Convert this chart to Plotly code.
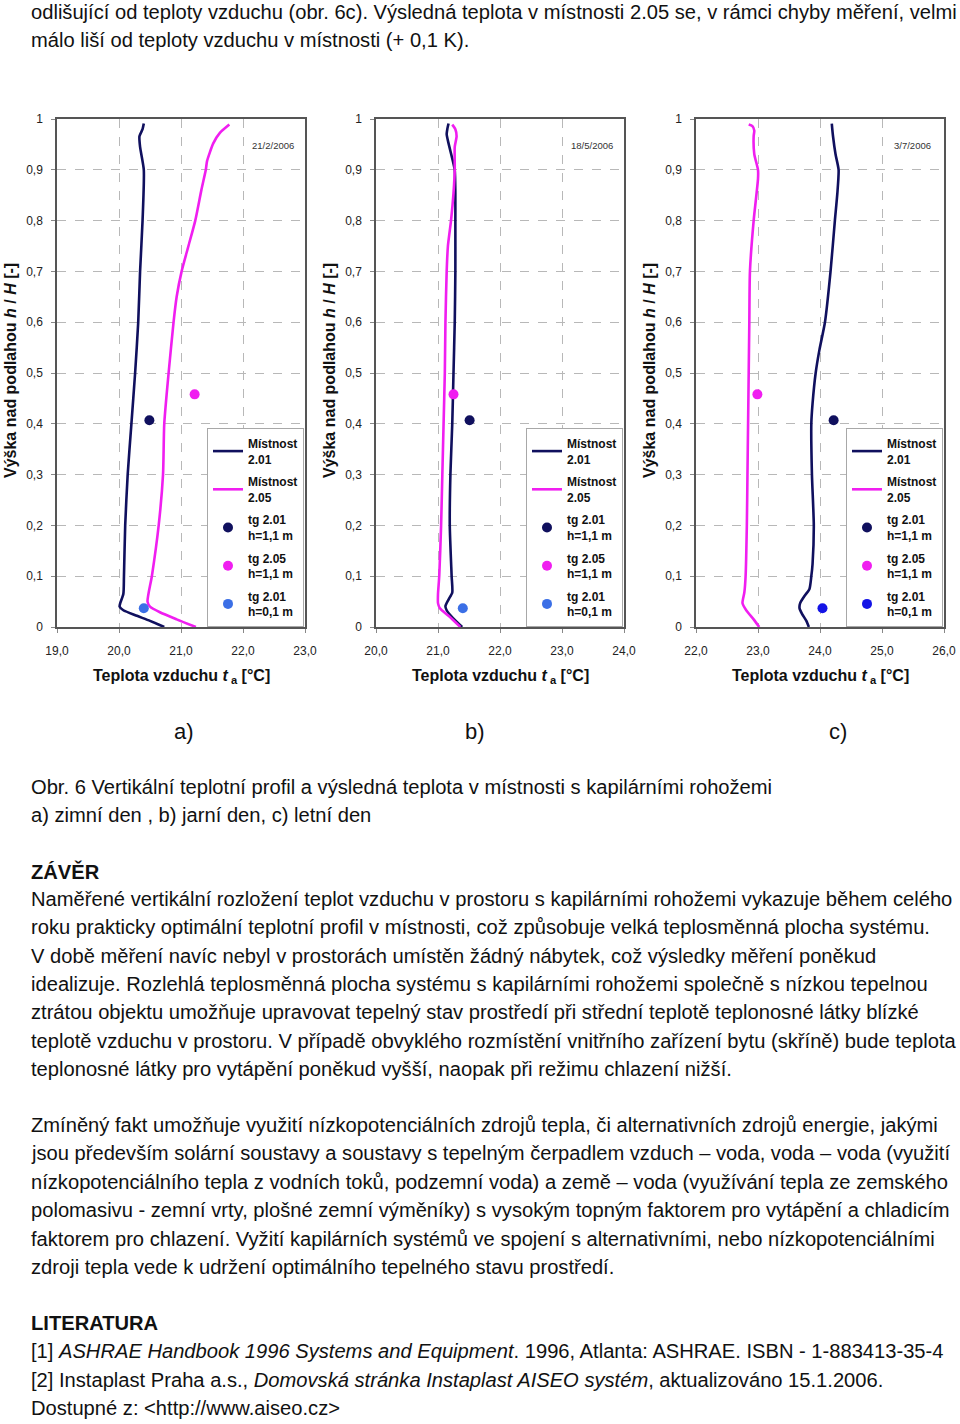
import plotly.graph_objects as go

W, H = 960, 1424
FONT = "Liberation Sans, Arial, Helvetica, sans-serif"

# ---------------- data ----------------
dates = ["21/2/2006", "18/5/2006", "3/7/2006"]
panel_labels = ["a)", "b)", "c)"]
x_ranges = [[19, 23], [20, 24], [22, 26]]
x_tickvals = [[19, 20, 21, 22, 23], [20, 21, 22, 23, 24], [22, 23, 24, 25, 26]]
x_ticktext = [["19,0", "20,0", "21,0", "22,0", "23,0"],
              ["20,0", "21,0", "22,0", "23,0", "24,0"],
              ["22,0", "23,0", "24,0", "25,0", "26,0"]]
y_tickvals = [0, 0.1, 0.2, 0.3, 0.4, 0.5, 0.6, 0.7, 0.8, 0.9, 1]
y_ticktext = ["0", "0,1", "0,2", "0,3", "0,4", "0,5", "0,6", "0,7", "0,8", "0,9", "1"]

# panel a) 21/2/2006
a_h_201 = [0.991, 0.98, 0.966, 0.945, 0.9, 0.8, 0.7, 0.6, 0.5, 0.4, 0.3, 0.2, 0.1, 0.065, 0.047, 0.04, 0.033, 0.022, 0.012, 0.0]
a_t_201 = [20.40, 20.38, 20.33, 20.34, 20.40, 20.38, 20.34, 20.31, 20.26, 20.20, 20.14, 20.10, 20.08, 20.07, 20.02, 20.01, 20.07, 20.29, 20.50, 20.73]
a_h_205 = [0.989, 0.973, 0.952, 0.917, 0.9, 0.861, 0.8, 0.75, 0.7, 0.65, 0.6, 0.5, 0.4, 0.3, 0.2, 0.1, 0.05, 0.04, 0.029, 0.015, 0.0]
a_t_205 = [21.78, 21.63, 21.52, 21.42, 21.40, 21.33, 21.23, 21.12, 21.01, 20.93, 20.88, 20.80, 20.73, 20.71, 20.64, 20.53, 20.46, 20.50, 20.66, 20.93, 21.24]
a_tg201_11 = [20.49, 0.407]
a_tg205_11 = [21.22, 0.458]
a_tg201_01 = [20.40, 0.037]

# panel b) 18/5/2006
b_h_201 = [0.991, 0.98, 0.97, 0.952, 0.917, 0.9, 0.854, 0.8, 0.7, 0.6, 0.5, 0.4, 0.3, 0.2, 0.1, 0.068, 0.054, 0.041, 0.033, 0.019, 0.0]
b_t_201 = [21.17, 21.15, 21.14, 21.17, 21.24, 21.27, 21.28, 21.28, 21.28, 21.27, 21.25, 21.23, 21.20, 21.19, 21.22, 21.23, 21.17, 21.12, 21.14, 21.23, 21.39]
b_h_205 = [0.989, 0.98, 0.966, 0.945, 0.9, 0.854, 0.8, 0.75, 0.7, 0.6, 0.5, 0.4, 0.3, 0.2, 0.1, 0.065, 0.047, 0.037, 0.022, 0.0]
b_t_205 = [21.23, 21.28, 21.30, 21.27, 21.27, 21.25, 21.21, 21.16, 21.14, 21.12, 21.11, 21.09, 21.07, 21.05, 21.02, 21.00, 21.00, 21.03, 21.17, 21.36]
b_tg201_11 = [21.51, 0.407]
b_tg205_11 = [21.25, 0.458]
b_tg201_01 = [21.40, 0.037]

# panel c) 3/7/2006
c_h_201 = [0.991, 0.966, 0.931, 0.9, 0.854, 0.8, 0.7, 0.6, 0.545, 0.5, 0.44, 0.4, 0.3, 0.2, 0.124, 0.1, 0.075, 0.061, 0.047, 0.037, 0.026, 0.012, 0.0]
c_t_201 = [24.19, 24.21, 24.25, 24.30, 24.28, 24.24, 24.17, 24.08, 23.99, 23.93, 23.88, 23.86, 23.87, 23.90, 23.88, 23.86, 23.83, 23.75, 23.68, 23.67, 23.71, 23.78, 23.82]
c_h_205 = [0.989, 0.986, 0.977, 0.966, 0.931, 0.9, 0.882, 0.8, 0.7, 0.6, 0.5, 0.4, 0.3, 0.2, 0.1, 0.068, 0.047, 0.033, 0.015, 0.0]
c_t_205 = [22.85, 22.91, 22.94, 22.93, 22.94, 23.00, 23.00, 22.93, 22.87, 22.86, 22.85, 22.84, 22.83, 22.82, 22.80, 22.78, 22.75, 22.81, 22.93, 23.02]
c_tg201_11 = [24.22, 0.407]
c_tg205_11 = [22.99, 0.458]
c_tg201_01 = [24.04, 0.037]

series_names = ["Místnost<br>2.01", "Místnost<br>2.05", "tg 2.01<br>h=1,1 m", "tg 2.05<br>h=1,1 m", "tg 2.01<br>h=0,1 m"]

panels = [
    (a_t_201, a_h_201, a_t_205, a_h_205, a_tg201_11, a_tg205_11, a_tg201_01, "#3b6fe6"),
    (b_t_201, b_h_201, b_t_205, b_h_205, b_tg201_11, b_tg205_11, b_tg201_01, "#3b6fe6"),
    (c_t_201, c_h_201, c_t_205, c_h_205, c_tg201_11, c_tg205_11, c_tg201_01, "#1414e6"),
]

text_top = [
    "odlišující od teploty vzduchu (obr. 6c). Výsledná teplota v místnosti 2.05 se, v rámci chyby měření, velmi",
    "málo liší od teploty vzduchu v místnosti (+ 0,1 K).",
]
caption = [
    "Obr. 6 Vertikální teplotní profil a výsledná teplota v místnosti s kapilárními rohožemi",
    "a) zimní den , b) jarní den, c) letní den",
]
heading1 = "ZÁVĚR"
para1 = [
    "Naměřené vertikální rozložení teplot vzduchu v prostoru s kapilárními rohožemi vykazuje během celého",
    "roku prakticky optimální teplotní profil v místnosti, což způsobuje velká teplosměnná plocha systému.",
    "V době měření navíc nebyl v prostorách umístěn žádný nábytek, což výsledky měření poněkud",
    "idealizuje. Rozlehlá teplosměnná plocha systému s kapilárními rohožemi společně s nízkou tepelnou",
    "ztrátou objektu umožňuje upravovat tepelný stav prostředí při střední teplotě teplonosné látky blízké",
    "teplotě vzduchu v prostoru. V případě obvyklého rozmístění vnitřního zařízení bytu (skříně) bude teplota",
    "teplonosné látky pro vytápění poněkud vyšší, naopak při režimu chlazení nižší.",
]
para2 = [
    "Zmíněný fakt umožňuje využití nízkopotenciálních zdrojů tepla, či alternativních zdrojů energie, jakými",
    "jsou především solární soustavy a soustavy s tepelným čerpadlem vzduch – voda, voda – voda (využití",
    "nízkopotenciálního tepla z vodních toků, podzemní voda) a země – voda (využívání tepla ze zemského",
    "polomasivu - zemní vrty, plošné zemní výměníky) s vysokým topným faktorem pro vytápění a chladicím",
    "faktorem pro chlazení. Vyžití kapilárních systémů ve spojení s alternativními, nebo nízkopotenciálními",
    "zdroji tepla vede k udržení optimálního tepelného stavu prostředí.",
]
heading2 = "LITERATURA"
refs = [
    "[1] <i>ASHRAE Handbook 1996 Systems and Equipment</i>. 1996, Atlanta: ASHRAE. ISBN - 1-883413-35-4",
    "[2] Instaplast Praha a.s., <i>Domovská stránka Instaplast AISEO systém</i>, aktualizováno 15.1.2006.",
    "Dostupné z: &lt;http://www.aiseo.cz&gt;",
]

# ---------------- layout helpers ----------------
def px(x):
    return x / W

def py(y):
    return 1 - y / H

NAVY = "#10105e"
MAG = "#f01ef0"

plot_left = [57, 376, 696]
plot_w = 248
plot_top, plot_bot = 119, 627
legend_left = [207, 526, 846]

fig = go.Figure()
annotations = []

for i, (t1, h1, t2, h2, p1, p2, p3, bluec) in enumerate(panels):
    xa = "x" if i == 0 else f"x{i+1}"
    ya = "y" if i == 0 else f"y{i+1}"
    lg = "legend" if i == 0 else f"legend{i+1}"
    common = dict(xaxis=xa, yaxis=ya, legend=lg)
    fig.add_trace(go.Scatter(x=t1, y=h1, mode="lines", name=series_names[0], legendgroup=f"{i}a",
                             line=dict(color=NAVY, width=2.6, shape="spline", smoothing=0.6), **common))
    fig.add_trace(go.Scatter(x=t2, y=h2, mode="lines", name=series_names[1], legendgroup=f"{i}b",
                             line=dict(color=MAG, width=2.6, shape="spline", smoothing=0.6), **common))
    fig.add_trace(go.Scatter(x=[p1[0]], y=[p1[1]], mode="markers", name=series_names[2], legendgroup=f"{i}c",
                             marker=dict(color=NAVY, size=10), **common))
    fig.add_trace(go.Scatter(x=[p2[0]], y=[p2[1]], mode="markers", name=series_names[3], legendgroup=f"{i}d",
                             marker=dict(color=MAG, size=10), **common))
    fig.add_trace(go.Scatter(x=[p3[0]], y=[p3[1]], mode="markers", name=series_names[4], legendgroup=f"{i}e",
                             marker=dict(color=bluec, size=10), **common))

    axis_common = dict(showgrid=True, gridcolor="#b8b8b8", griddash="dash", gridwidth=1,
                       showline=True, mirror=True, linecolor="#555555", linewidth=1.5,
                       ticks="outside", ticklen=4, tickcolor="#888888", zeroline=False,
                       automargin=False,
                       tickfont=dict(family=FONT, size=12, color="#222"))
    fig.update_layout(**{
        ("xaxis" if i == 0 else f"xaxis{i+1}"): dict(
            domain=[px(plot_left[i]), px(plot_left[i] + plot_w)], range=x_ranges[i],
            tickvals=x_tickvals[i], ticktext=x_ticktext[i], anchor=ya,
            ticklabelstandoff=8, **axis_common),
        ("yaxis" if i == 0 else f"yaxis{i+1}"): dict(
            domain=[py(plot_bot), py(plot_top)], range=[0, 1],
            tickvals=y_tickvals, ticktext=y_ticktext, anchor=xa,
            ticklabelstandoff=6, **axis_common),
        lg: dict(x=px(legend_left[i]), y=py(428), xanchor="left", yanchor="top",
                 bgcolor="white", bordercolor="#a8a8a8", borderwidth=1,
                 font=dict(family=FONT, size=12, color="#111", weight="bold"),
                 itemwidth=30, tracegroupgap=4, itemclick=False),
    })

    cx = plot_left[i] + plot_w / 2
    annotations.append(dict(x=px(plot_left[i] + 216), y=py(146), text=dates[i],
                            font=dict(family=FONT, size=9.5, color="#333")))
    annotations.append(dict(x=px(plot_left[i] - 47), y=py(371),
                            text="Výška nad podlahou <i>h</i> / <i>H</i> [-]", textangle=-90,
                            font=dict(family=FONT, size=16, color="#111", weight="bold")))
    annotations.append(dict(x=px(cx), y=py(676), text="Teplota vzduchu <i>t</i><sub> a</sub> [°C]",
                            font=dict(family=FONT, size=16, color="#111", weight="bold")))

for lab, x in zip(panel_labels, [184, 475, 838]):
    annotations.append(dict(x=px(x), y=py(731), text=lab,
                            font=dict(family=FONT, size=22, color="#111")))

BODY = 20.15

def add_lines(lines, y0, step, bold=False):
    for k, s in enumerate(lines):
        annotations.append(dict(x=px(29), y=py(y0 + k * step), text=s, xanchor="left",
                                font=dict(family=FONT, size=BODY, color="#111",
                                          weight="bold" if bold else "normal")))

add_lines(text_top, 12, 28.3)
add_lines(caption, 787, 28.3)
add_lines([heading1], 871, 28.3, bold=True)
add_lines(para1, 899, 28.33)
add_lines(para2, 1125, 28.4)
add_lines([heading2], 1323, 28.3, bold=True)
add_lines(refs, 1351, 28.5)

for a in annotations:
    a.setdefault("xref", "paper")
    a.setdefault("yref", "paper")
    a.setdefault("showarrow", False)
    a.setdefault("xanchor", "center")
    a.setdefault("yanchor", "middle")

fig.update_layout(width=W, height=H, margin=dict(l=0, r=0, t=0, b=0, autoexpand=False),
                  paper_bgcolor="white", plot_bgcolor="white",
                  annotations=annotations, showlegend=True)

fig.write_html("out.html")
